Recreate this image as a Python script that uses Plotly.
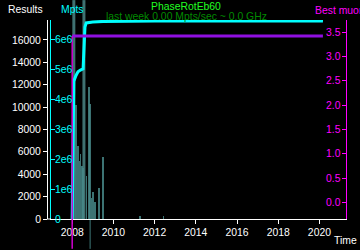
import plotly.graph_objects as go

# ---------------- data ----------------
curve_years = [2008.00, 2008.03, 2008.06, 2008.08, 2008.18, 2008.28, 2008.40, 2008.53,
               2008.55, 2008.60, 2008.62, 2008.68, 2009.00, 2009.50, 2012.00, 2020.17]
mpts_values = [0, 1.5e6, 4.5e6, 4.62e6, 4.8e6, 4.93e6, 4.99e6, 5.03e6,
               5.37e6, 6.0e6, 6.43e6, 6.57e6, 6.60e6, 6.62e6, 6.63e6, 6.63e6]
results_values = [0, 4000, 12000, 12350, 12800, 13150, 13320, 13450,
                  14300, 16000, 17200, 17500, 17600, 17690, 17720, 17720]

muon_years = [2008.00, 2020.17]
muon_values = [3.424, 3.424]

bar_years = [2008.19, 2008.29, 2008.36, 2008.41, 2008.46, 2008.52, 2008.70, 2008.80,
             2008.87, 2008.94, 2009.01, 2009.10, 2009.30, 2009.49, 2011.28, 2012.43]
bar_values = [10200, 6500, 5150, 5800, 4700, 4600, 3800, 11800,
              10300, 1900, 2400, 1500, 2800, 5500, 250, 250]

full_height_event_years = [2008.08, 2008.57]
below_axis_event_years = [2008.87]

results_ticks = [0, 2000, 4000, 6000, 8000, 10000, 12000, 14000, 16000]
results_ticktext = ["0", "2000", "4000", "6000", "8000", "10000", "12000", "14000", "16000"]
mpts_ticks = [0, 1e6, 2e6, 3e6, 4e6, 5e6, 6e6]
mpts_ticktext = ["0", "1e6", "2e6", "3e6", "4e6", "5e6", "6e6"]
muon_ticks = [0.0, 0.5, 1.0, 1.5, 2.0, 2.5, 3.0, 3.5]
muon_ticktext = ["0.0", "0.5", "1.0", "1.5", "2.0", "2.5", "3.0", "3.5"]
year_ticks = [2008, 2010, 2012, 2014, 2016, 2018, 2020]
year_ticktext = ["2008", "2010", "2012", "2014", "2016", "2018", "2020"]

title_text = "PhaseRotEb60"
subtitle_text = "last week 0.00 Mpts/sec ~ 0.0 GHz"

# ---------------- layout geometry ----------------
W, H = 360, 250
ML, MR, MT, MB = 45, 14, 20, 30
PW, PH = W - ML - MR, H - MT - MB
FONT = "Liberation Sans, Arial, sans-serif"
FS = 10.4
CYAN, MAGENTA = "#00ffff", "#ff00ff"


def px(x):
    return (x - ML) / PW


def py(y):
    return (H - MB - y) / PH


fig = go.Figure()

fig.add_trace(go.Bar(x=bar_years, y=bar_values, width=0.08,
                     marker=dict(color="rgba(70,135,135,0.85)", line=dict(width=0)),
                     xaxis="x", yaxis="y", showlegend=False))

fig.add_trace(go.Scatter(x=curve_years, y=results_values, mode="lines",
                         line=dict(color="white", width=1),
                         xaxis="x", yaxis="y", showlegend=False))

fig.add_trace(go.Scatter(x=curve_years, y=mpts_values, mode="lines",
                         line=dict(color=CYAN, width=3),
                         xaxis="x", yaxis="y2", showlegend=False))

fig.add_trace(go.Scatter(x=muon_years, y=muon_values, mode="lines",
                         line=dict(color="#9010e0", width=3),
                         xaxis="x", yaxis="y3", showlegend=False))

shapes = []
for yr in full_height_event_years:
    shapes.append(dict(type="line", xref="x", yref="paper", x0=yr, x1=yr,
                       y0=0, y1=py(0), layer="below",
                       line=dict(color="rgba(70,125,125,0.9)", width=3)))
for yr in below_axis_event_years:
    shapes.append(dict(type="line", xref="x", yref="paper", x0=yr, x1=yr,
                       y0=py(H), y1=0, layer="below",
                       line=dict(color="rgba(70,135,135,0.9)", width=1)))
shapes.append(dict(type="line", xref="x", yref="paper",
                   x0=muon_years[0], x1=muon_years[0], y0=py(H), y1=py(36),
                   line=dict(color="#d000d0", width=1.5)))
shapes.append(dict(type="line", xref="paper", yref="paper", x0=0, x1=px(49),
                   y0=0, y1=0, line=dict(color="white", width=1)))

fig.update_layout(
    width=W, height=H,
    margin=dict(l=ML, r=MR, t=MT, b=MB, pad=0),
    paper_bgcolor="black", plot_bgcolor="black",
    font=dict(family=FONT, size=FS, color="white"),
    bargap=0,
    shapes=shapes,
    xaxis=dict(domain=[px(49), 1], range=[2006.97, 2021.29], tickvals=year_ticks,
               ticktext=year_ticktext,
               ticks="outside", ticklen=4, tickcolor="white", showline=True,
               linecolor="white", linewidth=1, showgrid=False, zeroline=False,
               tickfont=dict(color="white", size=FS, family=FONT)),
    yaxis=dict(anchor="free", position=0, range=[0, 17778], tickvals=results_ticks,
               ticktext=results_ticktext,
               ticks="outside", ticklen=4, tickcolor="white", showline=True,
               linecolor="white", linewidth=1, showgrid=False, zeroline=False,
               tickfont=dict(color="white", size=FS, family=FONT)),
    yaxis2=dict(overlaying="y", anchor="x", side="left", range=[0, 6.667e6],
                tickvals=mpts_ticks, ticks="inside", ticklen=4, tickcolor=CYAN,
                showticklabels=False, showline=True, linecolor=CYAN, linewidth=1,
                showgrid=False, zeroline=False),
    yaxis3=dict(overlaying="y", anchor="x", side="right", range=[-0.342, 3.752],
                tickvals=muon_ticks, ticks="inside", ticklen=4, tickcolor=MAGENTA,
                showticklabels=False, showline=True, linecolor=MAGENTA, linewidth=1,
                showgrid=False, zeroline=False),
)

# tick labels of the inner axes, positioned through the axes' own scales
for v, t in zip(mpts_ticks, mpts_ticktext):
    fig.add_annotation(text=t, xref="paper", yref="y2", x=px(51), y=v,
                       xanchor="left", yanchor="middle", showarrow=False,
                       font=dict(color=CYAN, size=FS, family=FONT))
for v, t in zip(muon_ticks, muon_ticktext):
    fig.add_annotation(text=t, xref="paper", yref="y3", x=px(343), y=v,
                       xanchor="right", yanchor="middle", showarrow=False,
                       font=dict(color=MAGENTA, size=FS, family=FONT))

ann = [
    ("Results", 4, 9, "left", "white"),
    ("Mpts", 57, 9, "left", CYAN),
    (title_text, 184.5, 6, "center", "#20ff20"),
    (subtitle_text, 185, 16, "center", "#008a00"),
    ("Best muon", 313, 10, "left", MAGENTA),
    ("Time", 332, 242, "left", "white"),
]
for text, x, y, anchor, color in ann:
    fig.add_annotation(text=text, xref="paper", yref="paper", x=px(x), y=py(y),
                       xanchor=anchor, yanchor="middle", showarrow=False,
                       font=dict(color=color, size=FS, family=FONT))

fig.write_html("out.html")
